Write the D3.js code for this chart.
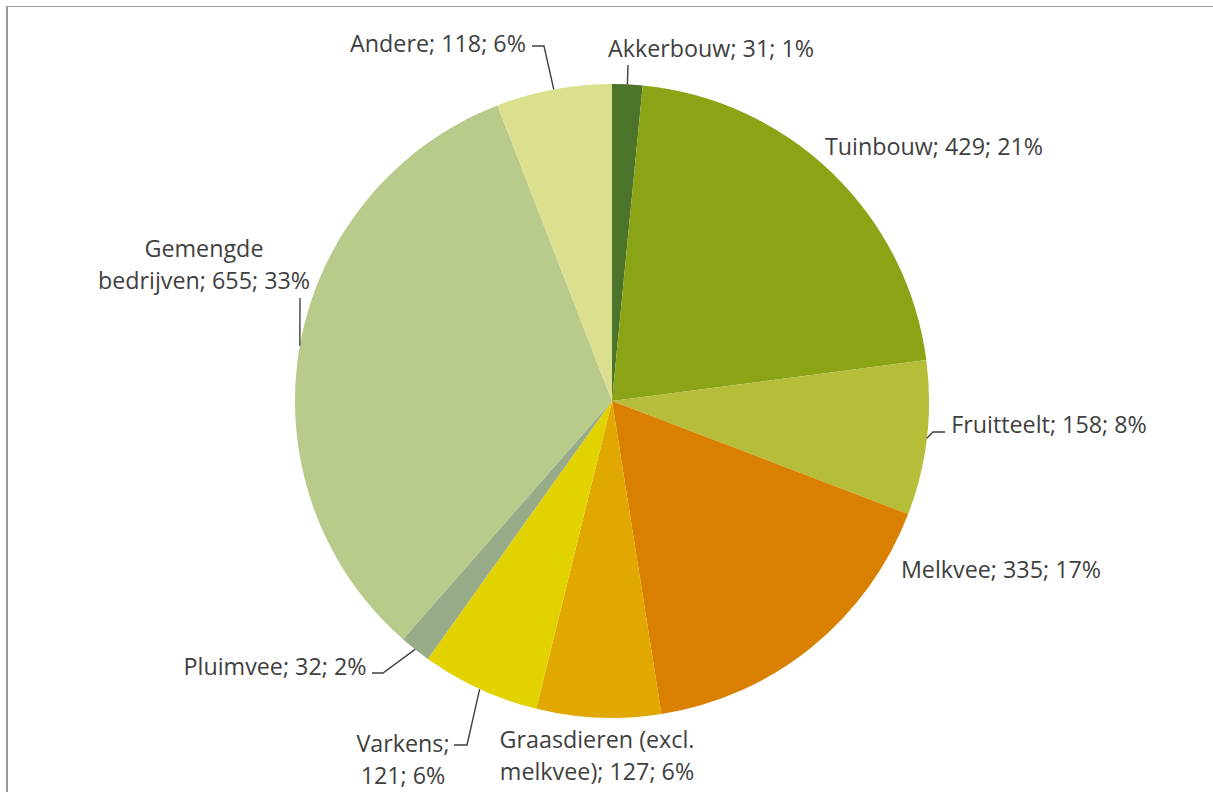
<!DOCTYPE html>
<html>
<head>
<meta charset="utf-8">
<script src="https://cdn.jsdelivr.net/npm/d3@7"></script>
<style>
  body { margin: 0; background: #fff; }
  svg { display: block; }
</style>
</head>
<body>
<svg id="chart" width="1213" height="792"></svg>
<script>
// categories, values and the percentages as printed in the labels
var categories = ["Akkerbouw", "Tuinbouw", "Fruitteelt", "Melkvee", "Graasdieren (excl. melkvee)",
                  "Varkens", "Pluimvee", "Gemengde bedrijven", "Andere"];
var values = [31, 429, 158, 335, 127, 121, 32, 655, 118];
var percents = [1, 21, 8, 17, 6, 6, 2, 33, 6];
var colours = ["#4b7329", "#8aa415", "#b5bd39", "#d98000", "#e0a800",
               "#e2d200", "#98ab89", "#b8cb8a", "#dbe08f"];

// where Excel dropped each data label (text centre x, first baseline y),
// where the label is split, and the elbow of its leader line
var labelLayout = [
  { x: 711, y: 57,  br: null,           lead: [[628, 65]] },
  { x: 934, y: 155, br: null,           lead: null },
  { x: 1049, y: 433, br: null,          lead: [[933, 432], [945, 432]] },
  { x: 1001, y: 578, br: null,          lead: null },
  { x: 597, y: 748, br: "(excl. ",      lead: null },
  { x: 403, y: 752, br: "Varkens; ",    lead: [[467, 745], [454, 745]] },
  { x: 275, y: 675, br: null,           lead: [[383, 673], [372, 673]] },
  { x: 204, y: 257, br: "Gemengde ",    lead: [[300, 298]] },
  { x: 438, y: 52,  br: null,           lead: [[544, 46], [532, 46]] }
];

var svg = d3.select("#chart");
var cx = 612, cy = 401, radius = 317, lineH = 32;

// chart area frame (only the top and left edges show in the crop)
svg.append("line").attr("x1", 7).attr("x2", 1213).attr("y1", 6.5).attr("y2", 6.5)
  .attr("stroke", "#9a9a9a").attr("stroke-width", 1);
svg.append("line").attr("x1", 7).attr("x2", 7).attr("y1", 6).attr("y2", 792)
  .attr("stroke", "#9a9a9a").attr("stroke-width", 2);

var data = categories.map(function (c, i) {
  return { name: c, value: values[i], pct: percents[i], colour: colours[i], layout: labelLayout[i] };
});

var pie = d3.pie().sort(null).value(function (d) { return d.value; });
var arcs = pie(data);

var arc = d3.arc().innerRadius(0).outerRadius(radius);
var edge = d3.arc().innerRadius(radius).outerRadius(radius);

var g = svg.append("g").attr("transform", "translate(" + cx + "," + cy + ")");

g.selectAll("path.slice")
  .data(arcs)
  .join("path")
    .attr("class", "slice")
    .attr("d", arc)
    .attr("fill", function (d) { return d.data.colour; });

// leader lines: from the slice edge at mid angle to the label
var line = d3.line();
svg.append("g")
  .selectAll("path")
  .data(arcs.filter(function (d) { return d.data.layout.lead; }))
  .join("path")
    .attr("d", function (d) {
      var p = edge.centroid(d);
      var pts = [[p[0] + cx, p[1] + cy]].concat(d.data.layout.lead);
      return line(pts);
    })
    .attr("fill", "none")
    .attr("stroke", "#404040")
    .attr("stroke-width", 1.4);

// data labels "name; value; pct%"
var labels = svg.append("g")
  .attr("font-family", "'Open Sans', sans-serif")
  .attr("font-size", "23.3px")
  .attr("fill", "#3f3f3f")
  .attr("text-anchor", "middle");

labels.selectAll("text")
  .data(data)
  .join("text")
    .attr("x", function (d) { return d.layout.x; })
    .attr("y", function (d) { return d.layout.y; })
    .each(function (d) {
      var full = d.name + "; " + d.value + "; " + d.pct + "%";
      var lines = [full];
      if (d.layout.br) {
        var k = full.indexOf(d.layout.br) + d.layout.br.length;
        lines = [full.slice(0, k).trim(), full.slice(k)];
      }
      d3.select(this).selectAll("tspan")
        .data(lines)
        .join("tspan")
          .attr("x", d.layout.x)
          .attr("dy", function (l, i) { return i ? lineH : 0; })
          .text(function (l) { return l; });
    });
</script>
</body>
</html>
